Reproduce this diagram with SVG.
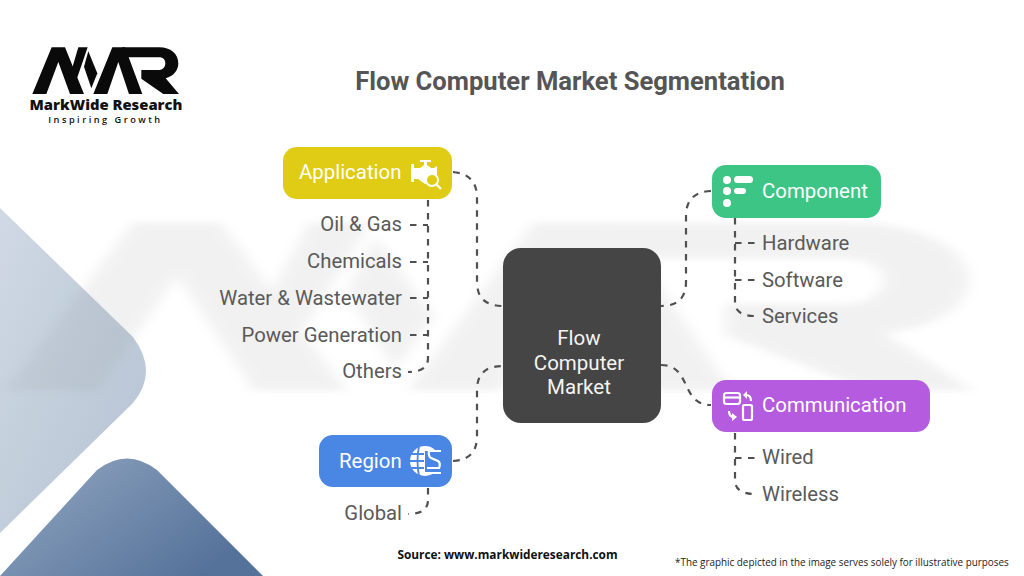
<svg xmlns="http://www.w3.org/2000/svg" width="1024" height="576" viewBox="0 0 1024 576">
<style>
text{font-family:Roboto,"Liberation Sans",sans-serif}
.lbl{font-size:20.300px;fill:#5a5a5a}
.end{text-anchor:end}
.head{font-size:20.400px;fill:#fff}
.ctr{font-size:20.500px;fill:#f4f4f4;text-anchor:middle}
.c{fill:none;stroke:#505050;stroke-width:2.200;stroke-dasharray:6.500 6.500}
.ic{fill:#fff}
.is{fill:none;stroke:#fff;stroke-width:2.200}
</style>
<defs>
<linearGradient id="g1" x1="0" y1="0" x2="1" y2="1"><stop offset="0" stop-color="#d0d9e4"/><stop offset="1" stop-color="#b4c2d2"/></linearGradient>
<linearGradient id="g2" x1="0" y1="0" x2="1" y2="0.6"><stop offset="0" stop-color="#94a8c2"/><stop offset="1" stop-color="#55729a"/></linearGradient>
<filter id="b" x="-5%" y="-5%" width="110%" height="110%"><feGaussianBlur stdDeviation="3"/></filter>
<g id="mark">
<path d="M97 222L155 82H195L252 222H210L175 126L139 222Z"/>
<path d="M212 160L235 82H263L226 190Z"/>
<path d="M265 94L292 160L274 205L252 140Z"/>
<path d="M280 222L337 82H375L427 222H387L355 126L322 222Z"/>
<path d="M366 82H478C512 82 535 102 535 130C535 152 521 168 497 175L537 222H490L424 176V150H478C488 150 496 142 496 130C496 118 488 112 478 112H378Z"/>
</g>
</defs>
<rect width="1024" height="576" fill="#fff"/>
<g id="background">
<path d="M0 208L133 337Q159 372 133 403L0 533Z" fill="url(#g1)"/>
<path d="M0 576L97 470Q127 447 157 470L263 576Z" fill="url(#g2)"/>
<use href="#mark" transform="translate(-208 124) scale(2.200 1.200)" fill="#8a8a8a" opacity="0.11" filter="url(#b)"/>
</g>
<g id="logo">
<use href="#mark" transform="translate(0 20) scale(0.3333)" fill="#0a0a0a"/>
<text x="106" y="110" text-anchor="middle" style="font-family:'Open Sans',sans-serif;font-weight:800;font-size:14.800px;fill:#111">MarkWide Research</text>
<text x="105.500" y="123" text-anchor="middle" style="font-family:'Open Sans',sans-serif;font-weight:600;font-size:9.200px;letter-spacing:2.500px;fill:#111">Inspiring Growth</text>
</g>
<text id="title" x="570" y="90" text-anchor="middle" style="font-weight:700;font-size:25.600px;fill:#555">Flow Computer Market Segmentation</text>
<g id="connectors">
<path class="c" d="M453 172Q477 174 477 198V282Q477 306 503 306"/>
<path class="c" d="M428 200V358Q428 372 408 372"/>
<path class="c" d="M410 225H428M410 262H428M410 298H428M410 335H428"/>
<path class="c" d="M711 191Q686 192 686 216V282Q686 306 661 306"/>
<path class="c" d="M735 218V302Q735 316 755 316"/>
<path class="c" d="M735 243H755M735 280H755"/>
<path class="c" d="M661 365C692 365 680 405 711 405"/>
<path class="c" d="M735 433V480Q735 494 755 494"/>
<path class="c" d="M735 458H755"/>
<path class="c" d="M453 461Q477 460 477 436V390Q477 366 503 366"/>
<path class="c" d="M428 488V500Q428 514 408 514"/>
</g>
<g id="center"><rect x="503" y="248" width="158" height="175" rx="18" fill="#454545"/>
<text class="ctr" x="579" y="345">Flow</text><text class="ctr" x="579" y="370">Computer</text><text class="ctr" x="579" y="394">Market</text></g>
<g id="application"><rect x="283" y="147" width="169" height="52" rx="14" fill="#e0cc14"/>
<text class="head" x="299" y="179">Application</text>
<g><path class="ic" d="M411 164h3v4h6l4-3v-3h-4v-2h11v2h-4v3l4 3h3l3-2v12l-12 6l-7-5h-4v3h-3z"/><circle cx="432" cy="180" r="6" fill="#e0cc14" stroke="#fff" stroke-width="2"/><path class="is" d="M436 184l5 5"/></g>
<text class="lbl end" x="402" y="231">Oil &amp; Gas</text><text class="lbl end" x="402" y="268">Chemicals</text><text class="lbl end" x="402" y="305">Water &amp; Wastewater</text><text class="lbl end" x="402" y="342">Power Generation</text><text class="lbl end" x="402" y="378">Others</text></g>
<g id="component"><rect x="712" y="165" width="169" height="53" rx="14" fill="#3dc586"/>
<text class="head" x="762" y="198">Component</text>
<g class="ic"><circle cx="727" cy="180" r="4"/><circle cx="727" cy="191" r="4"/><circle cx="727" cy="203" r="4"/><rect x="734" y="176" width="19" height="7" rx="3.500"/><rect x="734" y="188" width="12" height="6" rx="3"/></g>
<text class="lbl" x="762" y="250">Hardware</text><text class="lbl" x="762" y="287">Software</text><text class="lbl" x="762" y="323">Services</text></g>
<g id="communication"><rect x="712" y="380" width="218" height="52" rx="14" fill="#b45be0"/>
<text class="head" x="762" y="412">Communication</text>
<g><rect x="724" y="393" width="16" height="11" rx="2.500" class="is"/><path class="is" d="M724 397.500h16"/><rect x="743" y="405" width="9" height="15" rx="1.500" class="is"/><path class="is" d="M746 395q5 0 5 6M729 411q0 6 5 6"/><path class="ic" d="M743 395l4-4v8zM737 417l-5 4v-8z"/></g>
<text class="lbl" x="762" y="464">Wired</text><text class="lbl" x="762" y="501">Wireless</text></g>
<g id="region"><rect x="319" y="435" width="133" height="52" rx="14" fill="#4a86e4"/>
<text class="head" x="339" y="468">Region</text>
<g><circle cx="425" cy="461" r="15" class="ic"/><path d="M410 454h14M410 461h14M410 468h14M419 446q-3 15 0 30" stroke="#4a86e4" stroke-width="1.800" fill="none"/><rect x="425" y="451" width="20" height="21" fill="#4a86e4"/><path class="is" d="M441 451h-12q-1 5 2 7l7 3q3 2 1 7h-12M428 473h13" stroke-width="2.800"/></g>
<text class="lbl end" x="402" y="520">Global</text></g>
<text id="source" x="507.500" y="559" text-anchor="middle" style="font-family:'Open Sans',sans-serif;font-weight:700;font-size:11.850px;fill:#111">Source: www.markwideresearch.com</text>
<text id="note" x="675" y="565.500" style="font-family:'Open Sans',sans-serif;font-size:9.900px;fill:#222">*The graphic depicted in the image serves solely for illustrative purposes</text>
</svg>
